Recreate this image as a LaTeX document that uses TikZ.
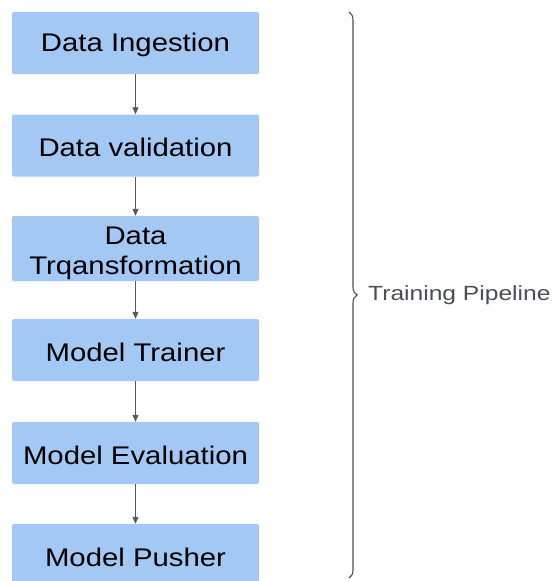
\documentclass[tikz,border=0pt]{standalone}
\usepackage{fontspec}
\setmainfont{Liberation Sans}
\newfontfamily\boxfont[FakeStretch=1.15]{Liberation Sans}
\newfontfamily\labfont[FakeStretch=1.2]{Liberation Sans}
\usetikzlibrary{arrows.meta,decorations.pathreplacing}
\definecolor{boxblue}{HTML}{A4C8F4}
\definecolor{arrgrey}{HTML}{5A5A5A}
\definecolor{labgrey}{HTML}{4A4F55}
\newcommand{\dropby}[2]{\raisebox{-#1}[\height][\depth]{#2}}
\tikzset{
  stage/.style={fill=boxblue, draw=none, rounded corners=2pt, minimum width=247pt,
    minimum height=62pt, inner sep=0pt, align=center,
    font=\boxfont\fontsize{25.5}{31}\selectfont, text=black},
  flow/.style={draw=arrgrey, line width=0.8pt, -{Triangle[length=7pt,width=6pt]}},
  bracestyle/.style={draw=labgrey, line width=1.1pt, decorate,
    decoration={brace, amplitude=8pt}},
}
\begin{document}
\begin{tikzpicture}[x=1pt,y=-1pt]
\useasboundingbox (0,0) rectangle (553,581);
\clip (0,0) rectangle (553,581);
\fill[white] (0,0) rectangle (553,581);
\node[stage] (n1) at (135.5,43) {\dropby{2pt}{Data Ingestion}};
\node[stage] (n2) at (135.5,145.5) {\dropby{2pt}{Data validation}};
\node[stage, minimum height=65pt] (n3) at (135.5,248.5) {\dropby{5pt}{\begin{tabular}{@{}c@{}}Data\\[-1pt]Trqansformation\end{tabular}}};
\node[stage] (n4) at (135.5,350) {\dropby{2pt}{Model Trainer}};
\node[stage] (n5) at (135.5,453) {\dropby{2pt}{Model Evaluation}};
\node[stage] (n6) at (135.5,555) {\dropby{2pt}{Model Pusher}};
\draw[flow] (n1) -- (n2);
\draw[flow] (n2) -- (n3);
\draw[flow] (n3) -- (n4);
\draw[flow] (n4) -- (n5);
\draw[flow] (n5) -- (n6);
\coordinate (btop) at (349,12);
\coordinate (bbot) at (349,578);
\draw[bracestyle] (btop) -- (bbot);
\node[anchor=west, inner sep=0pt, text=labgrey, font=\labfont\fontsize{20.5}{24}\selectfont] (lab) at (368,295) {Training Pipeline};
\end{tikzpicture}
\end{document}
